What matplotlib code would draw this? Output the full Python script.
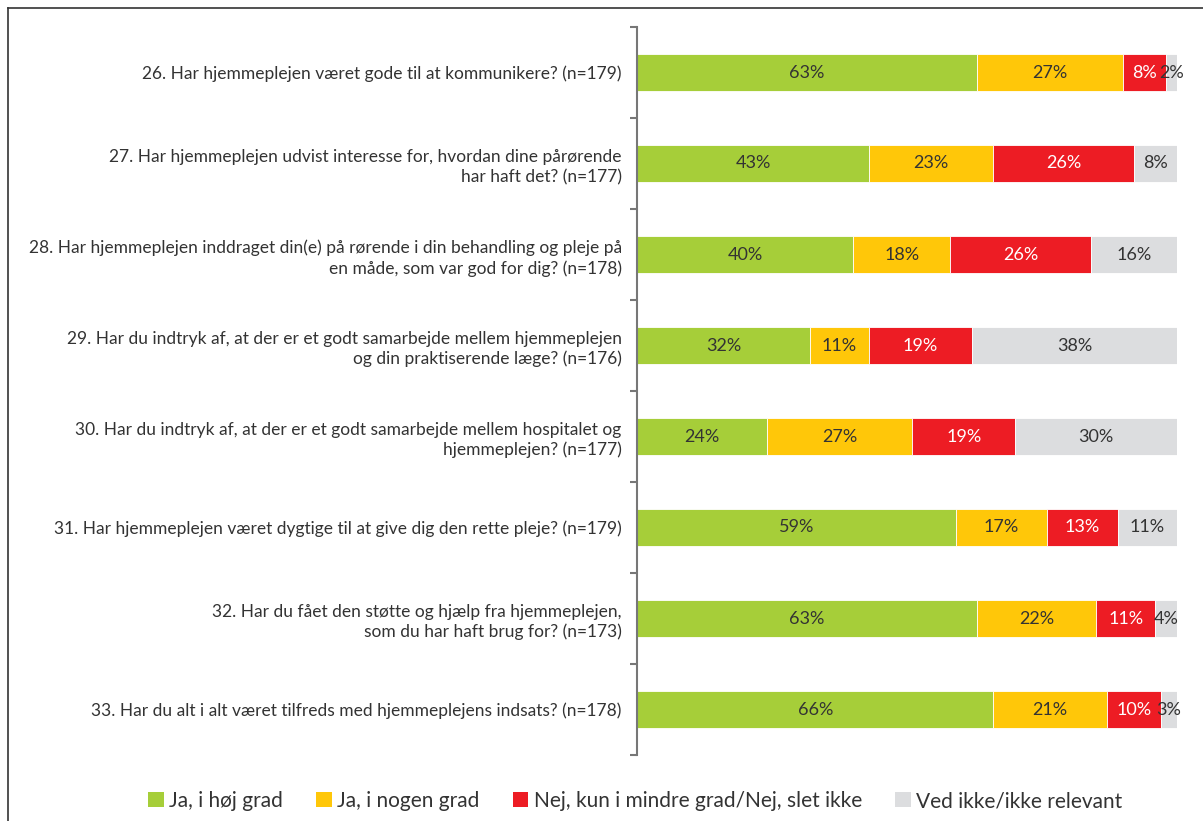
import matplotlib.pyplot as plt
from matplotlib.lines import Line2D
from matplotlib.patches import Patch

plt.rcParams['font.family'] = ['Lato', 'DejaVu Sans']

questions = [
    "26. Har hjemmeplejen været gode til at kommunikere? (n=179)",
    "27. Har hjemmeplejen udvist interesse for, hvordan dine pårørende\nhar haft det? (n=177)",
    "28. Har hjemmeplejen inddraget din(e) på rørende i din behandling og pleje på\nen måde, som var god for dig? (n=178)",
    "29. Har du indtryk af, at der er et godt samarbejde mellem hjemmeplejen\nog din praktiserende læge? (n=176)",
    "30. Har du indtryk af, at der er et godt samarbejde mellem hospitalet og\nhjemmeplejen? (n=177)",
    "31. Har hjemmeplejen været dygtige til at give dig den rette pleje? (n=179)",
    "32. Har du fået den støtte og hjælp fra hjemmeplejen,\nsom du har haft brug for? (n=173)",
    "33. Har du alt i alt været tilfreds med hjemmeplejens indsats? (n=178)",
]
categories = ["Ja, i høj grad", "Ja, i nogen grad",
              "Nej, kun i mindre grad/Nej, slet ikke", "Ved ikke/ikke relevant"]
ja_hoej = [63, 43, 40, 32, 24, 59, 63, 66]
ja_nogen = [27, 23, 18, 11, 27, 17, 22, 21]
nej = [8, 26, 26, 19, 19, 13, 11, 10]
ved_ikke = [2, 8, 16, 38, 30, 11, 4, 3]

colors = ['#a6ce39', '#ffc709', '#ed1c24', '#dcdddf']
text_colors = ['#333333', '#333333', 'white', '#333333']

fig = plt.figure(figsize=(12.03, 8.21), dpi=100)
ax = fig.add_axes([637 / 1203, 1 - 755 / 821, 540 / 1203, 728 / 821])

series = [ja_hoej, ja_nogen, nej, ved_ikke]
ypos = list(range(len(questions)))
left = [0] * len(questions)
for vals, col, tcol in zip(series, colors, text_colors):
    bars = ax.barh(ypos, vals, left=left, height=0.4, color=col,
                   edgecolor='white', linewidth=0.6)
    for b, v in zip(bars, vals):
        cx = b.get_x() + b.get_width() / 2
        ax.text(cx, b.get_y() + b.get_height() / 2, f"{v}%", ha='center',
                va='center', fontsize=13, color=tcol)
    left = [l + v for l, v in zip(left, vals)]

ax.set_xlim(0, 100)
ax.set_ylim(len(questions) - 0.5, -0.5)
ax.set_yticks(ypos)
ax.set_yticklabels(questions, fontsize=12.5, color='#333333', linespacing=1.3)
ax.set_yticks([i - 0.5 for i in range(len(questions) + 1)], minor=True)
ax.tick_params(axis='y', which='major', length=0, pad=11)
ax.tick_params(axis='y', which='minor', length=5, width=1.5, color='#777777')
ax.set_xticks([])
for s in ['top', 'right', 'bottom']:
    ax.spines[s].set_visible(False)
ax.spines['left'].set_color('#777777')
ax.spines['left'].set_linewidth(1.5)

handles = [Patch(facecolor=c, edgecolor='none') for c in colors]
fig.legend(handles, categories, loc='center', bbox_to_anchor=(0.528, 1 - 801 / 821),
           ncol=4, frameon=False, fontsize=15, handlelength=0.75, handleheight=0.75,
           handletextpad=0.25, columnspacing=1.6, labelcolor='#333333')

# frame lines at left and top
fig.add_artist(Line2D([8 / 1203, 8 / 1203], [0, 1 - 8 / 821], color='#333333', lw=1.2))
fig.add_artist(Line2D([8 / 1203, 1], [1 - 8 / 821, 1 - 8 / 821], color='#333333', lw=1.2))

fig.savefig('out.png', dpi=100)
